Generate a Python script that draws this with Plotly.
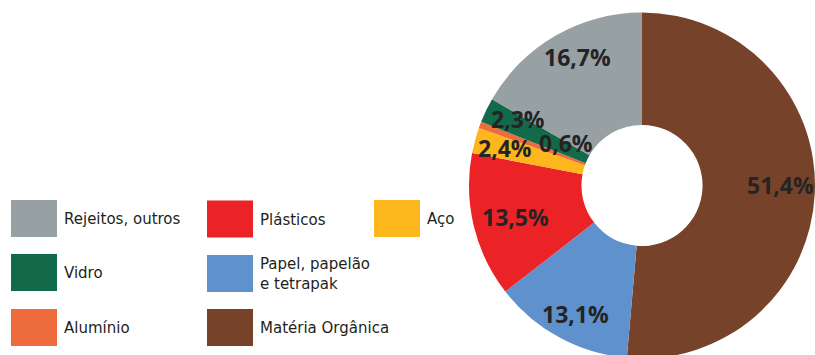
import plotly.graph_objects as go

# ---- data ----
categories = ["Matéria Orgânica", "Papel, papelão e tetrapak", "Plásticos", "Aço",
              "Alumínio", "Vidro", "Rejeitos, outros"]
values = [51.4, 13.1, 13.5, 2.4, 0.6, 2.3, 16.7]
value_labels = ["51,4%", "13,1%", "13,5%", "2,4%", "0,6%", "2,3%", "16,7%"]

legend_order = ["Rejeitos, outros", "Plásticos", "Aço",
                "Vidro", "Papel, papelão e tetrapak",
                "Alumínio", "Matéria Orgânica"]
legend_texts = ["Rejeitos, outros", "Plásticos", "Aço",
                "Vidro", "Papel, papelão<br>e tetrapak",
                "Alumínio", "Matéria Orgânica"]

# ---- styles / positions ----
colors = {
    "Matéria Orgânica": "#76432a",
    "Papel, papelão e tetrapak": "#5f91cc",
    "Plásticos": "#ec2326",
    "Aço": "#fdb71d",
    "Alumínio": "#ee6c3b",
    "Vidro": "#126a4a",
    "Rejeitos, outros": "#97a1a4",
}
W, H = 815, 362
label_pos = [(780, 185), (575.5, 313.5), (515, 216.5), (504.5, 147.5),
             (565.5, 142.5), (518, 119.5), (577.5, 56.5)]
legend_boxes = [(11, 200), (207, 200.5), (374, 200),
                (11, 254), (207, 255),
                (11, 309), (207, 309)]
box_w, box_h = 46, 37

cx, cy, r = 642, 185.5, 173

def px(x):
    return x / W

def py(y):
    return 1 - y / H

fig = go.Figure()
fig.add_trace(go.Pie(
    labels=categories, values=values, sort=False, direction="clockwise",
    rotation=0, hole=0.35, textinfo="none", showlegend=False,
    marker=dict(colors=[colors[c] for c in categories], line=dict(width=0)),
    domain=dict(x=[px(cx - r), px(cx + r)], y=[py(cy + r), py(cy - r)]),
))

annotations = []
for t, (x, y) in zip(value_labels, label_pos):
    annotations.append(dict(
        text=t, x=px(x), y=py(y), xref="paper", yref="paper",
        xanchor="center", yanchor="middle", showarrow=False,
        font=dict(family="Open Sans", size=23, color="#262324", weight="bold"),
    ))

shapes = []
for name, txt, (bx, by) in zip(legend_order, legend_texts, legend_boxes):
    shapes.append(dict(
        type="rect", xref="paper", yref="paper",
        x0=px(bx), x1=px(bx + box_w), y0=py(by + box_h), y1=py(by),
        fillcolor=colors[name], line=dict(width=0),
    ))
    annotations.append(dict(
        text=txt, x=px(bx + box_w + 5), y=py(by + box_h / 2 + 0.5),
        xref="paper", yref="paper", xanchor="left", yanchor="middle",
        align="left", showarrow=False,
        font=dict(family="DejaVu Sans", size=15, color="#231f20"),
    ))

fig.update_layout(
    width=W, height=H, margin=dict(l=0, r=0, t=0, b=0, pad=0),
    paper_bgcolor="white", plot_bgcolor="white",
    annotations=annotations, shapes=shapes,
)

fig.write_html(
    "out.html",
    post_script="document.body.style.overflow='hidden';"
                "document.documentElement.style.overflow='hidden';"
                "document.body.style.margin='0';",
)
